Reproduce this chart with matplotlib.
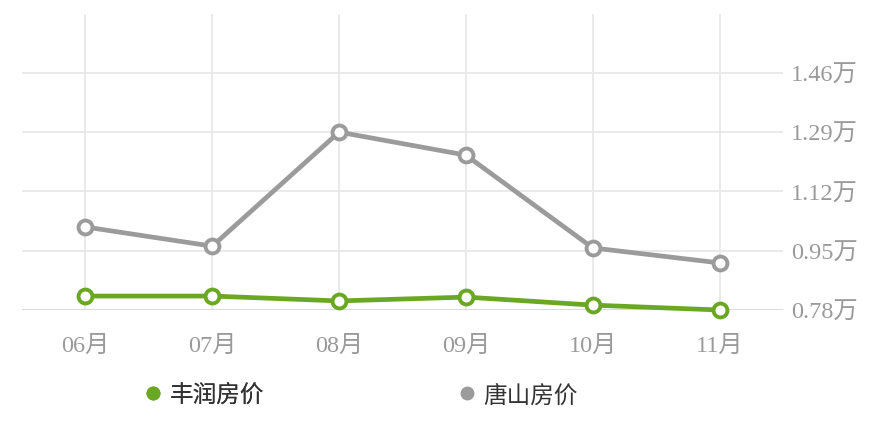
import matplotlib
matplotlib.use("Agg")
import matplotlib.pyplot as plt
from matplotlib.lines import Line2D

months = ["06月", "07月", "08月", "09月", "10月", "11月"]
fengrun = [0.820, 0.820, 0.806, 0.817, 0.794, 0.780]
tangshan = [1.018, 0.963, 1.290, 1.224, 0.958, 0.915]
yticks = [0.78, 0.95, 1.12, 1.29, 1.46]
ytick_labels = ["0.78万", "0.95万", "1.12万", "1.29万", "1.46万"]
series_names = ["丰润房价", "唐山房价"]

green = "#6aa823"
gray = "#9b9b9b"

fig = plt.figure(figsize=(8.91, 4.35), dpi=100)
ax = fig.add_axes([22/891, 1-311/435, (783-22)/891, (311-15)/435])

x = list(range(len(months)))
ax.plot(x, tangshan, color=gray, lw=3.4, marker="o", ms=10, mfc="white",
        mec=gray, mew=2.8, zorder=3, solid_capstyle="round", clip_on=False)
ax.plot(x, fengrun, color=green, lw=3.4, marker="o", ms=10, mfc="white",
        mec=green, mew=2.8, zorder=4, solid_capstyle="round", clip_on=False)

ax.set_xlim(-0.5, len(months) - 0.5)
ax.set_ylim(0.78, 1.6286)

# grid
for yv in yticks[1:]:
    ax.axhline(yv, color="#e8e8e8", lw=1.3, zorder=1)
for xv in x:
    ax.axvline(xv, color="#e8e8e8", lw=1.3, zorder=1)
ax.axhline(yticks[0], color="#cfcfcf", lw=1.8, zorder=2)

for s in ax.spines.values():
    s.set_visible(False)

fam = ["Liberation Serif", "Noto Sans CJK SC"]
ax.set_xticks(x)
ax.set_xticklabels(months, family=fam, fontsize=17.5, color="#9a9a9a")
ax.yaxis.tick_right()
ax.set_yticks(yticks)
ax.set_yticklabels(ytick_labels, family=fam, fontsize=17.5, color="#9a9a9a")
ax.tick_params(axis="both", length=0)
ax.tick_params(axis="x", pad=18)
ax.tick_params(axis="y", pad=6)
ax.patch.set_alpha(0)

# legend
handles = [Line2D([], [], ls="", marker="o", ms=9, color=green),
           Line2D([], [], ls="", marker="o", ms=9, color=gray)]
leg1 = fig.legend([handles[0]], [series_names[0]], loc="center left",
                  bbox_to_anchor=(120/891, 1-396/435), frameon=False,
                  prop={"family": "Noto Sans CJK SC", "size": 17},
                  handletextpad=0.2, handlelength=1.0, labelcolor="#333333")
fig.add_artist(leg1)
fig.legend([handles[1]], [series_names[1]], loc="center left",
           bbox_to_anchor=(434/891, 1-396/435), frameon=False,
           prop={"family": "Noto Sans CJK SC", "size": 17},
           handletextpad=0.2, handlelength=1.0, labelcolor="#333333")

fig.savefig("out.png", dpi=100)
